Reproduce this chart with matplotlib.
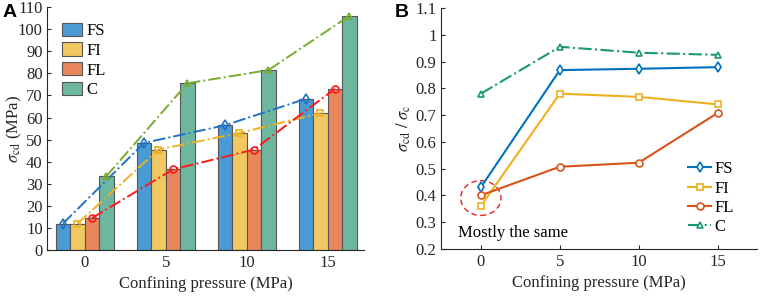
import numpy as np
import matplotlib
matplotlib.use("Agg")
import matplotlib.pyplot as plt
from matplotlib.patches import Ellipse
from matplotlib.ticker import FixedLocator, FuncFormatter

plt.rcParams['font.family'] = ['Liberation Serif', 'DejaVu Serif']
plt.rcParams['mathtext.fontset'] = 'stix'

pressure = [0, 5, 10, 15]
pressure_labels = ['0', '5', '10', '15']
series = ['FS', 'FI', 'FL', 'C']

# panel A: sigma_cd (MPa)
scd_FS = [12.0, 48.5, 56.5, 68.5]
scd_FI = [12.0, 45.5, 53.0, 62.0]
scd_FL = [14.5, 36.5, 45.5, 73.0]
scd_C = [33.5, 75.5, 81.5, 106.0]

# panel B: sigma_cd / sigma_c
ratio_FS = [0.43, 0.868, 0.873, 0.879]
ratio_FI = [0.36, 0.780, 0.768, 0.740]
ratio_FL = [0.40, 0.507, 0.522, 0.708]
ratio_C = [0.78, 0.955, 0.933, 0.925]

bar_colors = ['#4a9ad4', '#f2c862', '#e8875c', '#6db7a0']
line_colors_a = ['#1f72c4', '#edb120', '#ff1a1a', '#77ac30']
markers = ['d', 's', 'o', '^']
line_colors_b = ['#0072bd', '#edb120', '#d95319', '#1a9a6c']
dark = '#262626'

fig = plt.figure(figsize=(7.61, 2.97), dpi=100)

# ---------- A ----------
ax1 = fig.add_axes([0.0624, 0.158, 0.416, 0.818])
x = np.arange(len(pressure))
bw = 0.179
vals_a = [scd_FS, scd_FI, scd_FL, scd_C]
for i, (v, c, lab) in enumerate(zip(vals_a, bar_colors, series)):
    off = (i - 1.5) * bw
    ax1.bar(x + off, v, bw, color=c, edgecolor='#555555', linewidth=0.8, label=lab, zorder=2)
for i, (v, c, m) in enumerate(zip(vals_a, line_colors_a, markers)):
    off = (i - 1.5) * bw
    ax1.plot(x + off, v, linestyle='-.', color=c, lw=1.4, marker=m, ms=5,
             mfc='none', mec=c, mew=1.2, zorder=3)
ax1.set_xlim(-0.46, 3.45)
ax1.set_ylim(0, 110)
ax1.set_yticks(np.arange(0, 111, 10))
ax1.set_xticks(x)
ax1.set_xticklabels(pressure_labels)
ax1.set_xlabel('Confining pressure (MPa)', fontsize=12, color=dark)
ax1.set_ylabel(r'$\sigma_{\mathrm{cd}}$ (MPa)', fontsize=12, color=dark)
ax1.yaxis.set_label_coords(-0.075, 0.5)
ax1.legend(loc='upper left', bbox_to_anchor=(0.035, 0.95), frameon=False, fontsize=12,
           handlelength=1.2, handleheight=0.85, handletextpad=0.25, labelspacing=0.2,
           borderaxespad=0, borderpad=0.2)

# ---------- B ----------
ax2 = fig.add_axes([0.580, 0.162, 0.415, 0.811])
vals_b = [ratio_FS, ratio_FI, ratio_FL, ratio_C]
styles = ['-', '-', '-', '-.']
for v, c, m, ls, lab in zip(vals_b, line_colors_b, markers, styles, series):
    ax2.plot(pressure, v, linestyle=ls, color=c, lw=1.5, marker=m, ms=5,
             mfc='white', mec=c, mew=1.2, label=lab)
ax2.set_xlim(-2.5, 17.5)
ax2.set_ylim(0.2, 1.1)
yt = np.round(np.arange(0.2, 1.11, 0.1), 1)
ax2.yaxis.set_major_locator(FixedLocator(yt))
ax2.yaxis.set_major_formatter(FuncFormatter(lambda v, p: '%g' % round(v, 1)))
ax2.set_xticks(pressure)
ax2.set_xticklabels(pressure_labels)
ax2.set_xlabel('Confining pressure (MPa)', fontsize=12, color=dark)
ax2.set_ylabel(r'$\sigma_{\mathrm{cd}}\ /\ \sigma_{\mathrm{c}}$', fontsize=12, color=dark, labelpad=2)
ax2.add_patch(Ellipse((0, 0.39), 2.55, 0.13, fill=False, edgecolor='#e8202a',
                      linestyle=(0, (4, 2.5)), lw=1.0))
ax2.text(-1.45, 0.26, 'Mostly the same', fontsize=12, va='center', ha='left', color='black')
ax2.legend(loc='lower right', bbox_to_anchor=(0.937, 0.043), frameon=False, fontsize=12,
           handlelength=1.4, handletextpad=0.2, labelspacing=0.2,
           borderaxespad=0, borderpad=0.2)

for ax in (ax1, ax2):
    ax.spines['top'].set_visible(False)
    ax.spines['right'].set_visible(False)
    for s in ('left', 'bottom'):
        ax.spines[s].set_color(dark)
        ax.spines[s].set_linewidth(0.8)
    ax.tick_params(direction='in', length=3, width=0.8, colors=dark, labelsize=12, labelcolor=dark)

fig.text(0.003, 0.985, 'A', fontsize=14, fontweight='bold', family='Liberation Sans', va='top')
fig.text(0.519, 0.985, 'B', fontsize=14, fontweight='bold', family='Liberation Sans', va='top')

fig.savefig('out.png', dpi=100)
